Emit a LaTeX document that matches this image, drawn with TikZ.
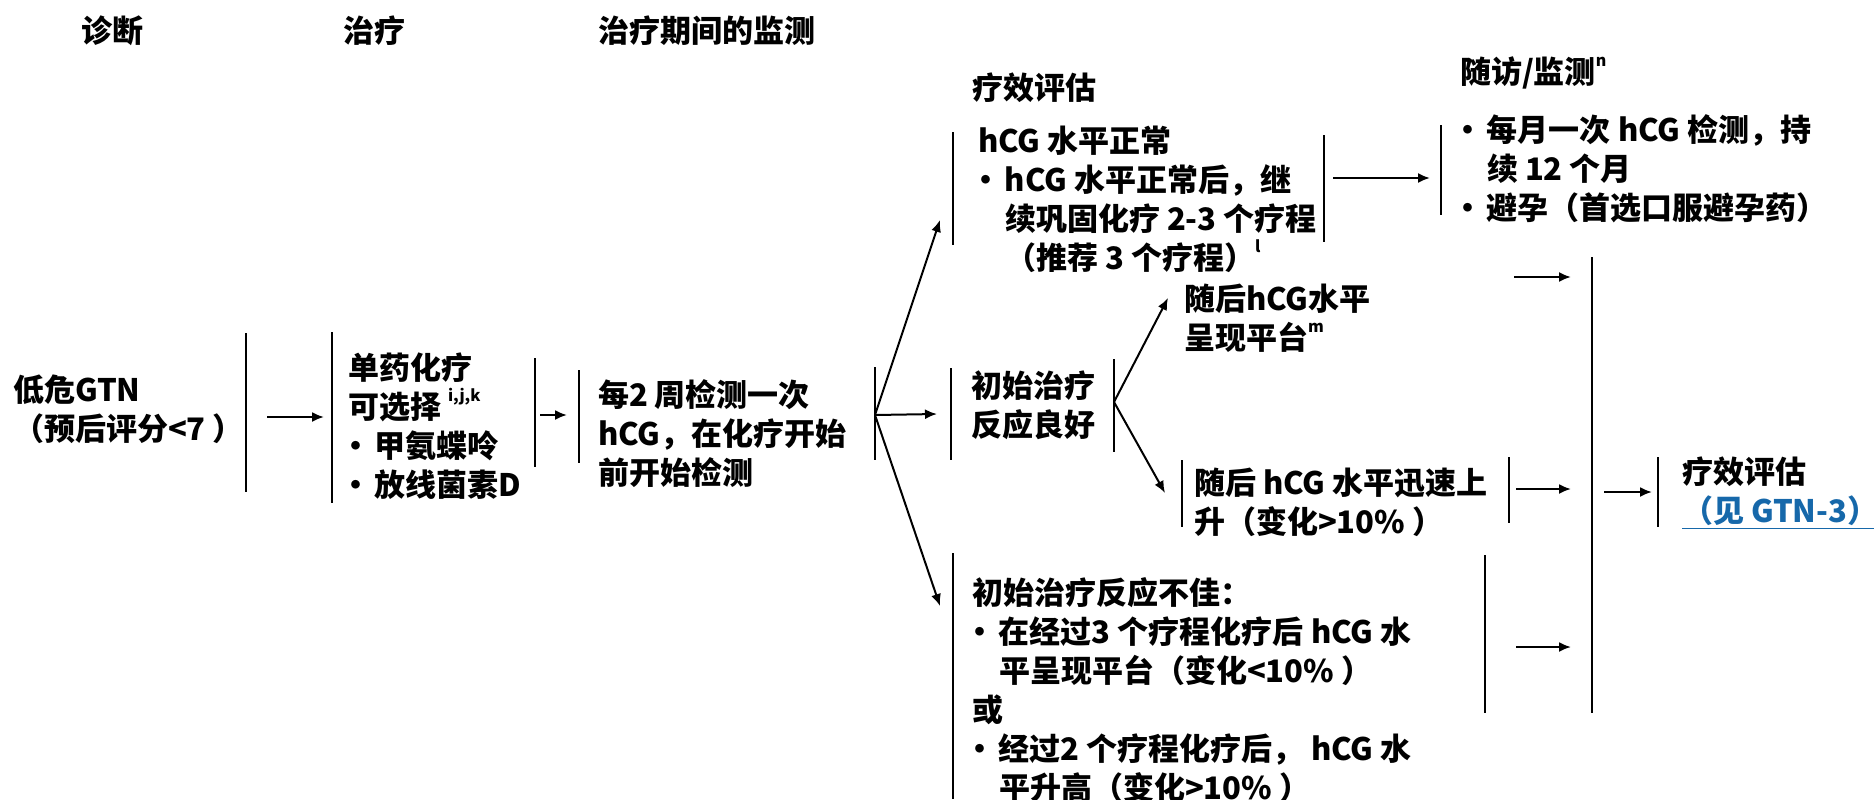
\documentclass[tikz,border=0pt]{standalone}
\usepackage{fontspec}
\setmainfont{Noto Sans CJK SC}
\usetikzlibrary{arrows.meta}
\definecolor{linkblue}{RGB}{22,104,170}
\newcommand\bul{\makebox[13.5pt][l]{\makebox[8pt]{•}}}
\newcommand\ind{\hspace*{13.5pt}}
\newcommand\sups[1]{\raisebox{0.55em}{\fontsize{8}{8}\selectfont #1}}
\begin{document}
\begin{tikzpicture}[x=0.5pt,y=-0.5pt,
  every node/.style={inner sep=0pt, outer sep=0pt, anchor=west, align=left,
    font=\fontsize{15.5}{19.5}\selectfont\bfseries},
  bar/.style={line width=1pt},
  arr/.style={line width=1pt, -{Latex[length=6pt,width=5pt]}}]
\useasboundingbox (0,0) rectangle (1874,799);

% headers
\node (h1) at (81,31) {诊断};
\node (h2) at (343,31) {治疗};
\node (h3) at (598,31) {治疗期间的监测};
\node (h4) at (972,88) {疗效评估};
\node (h5) at (1460,73) {随访/监测\sups{n}};

% text blocks
\node (dx) at (13,409) {低危GTN\\（预后评分<7 ）};
\node (tx) at (348,426) {单药化疗\\可选择 \sups{i,j,k}\\\bul 甲氨蝶呤\\\bul 放线菌素D};
\node (mon) at (598,434) {每2 周检测一次\\hCG，在化疗开始\\前开始检测};
\node (norm) at (978,199.5) {hCG 水平正常\\\bul hCG 水平正常后，继\\\ind 续巩固化疗 2-3 个疗程\\\ind （推荐 3 个疗程）\sups{l}};
\node (fu) at (1460,169) {\bul 每月一次 hCG 检测，持\\\ind 续 12 个月\\\bul 避孕（首选口服避孕药）};
\node (good) at (971,405) {初始治疗\\反应良好};
\node (plat) at (1184,318.5) {随后hCG水平\\呈现平台\sups{m}};
\node (rise) at (1194,502) {随后 hCG 水平迅速上\\升（变化>10\% ）};
\node (eval) at (1682,493) {疗效评估\\\textcolor{linkblue}{\underline{（见 GTN-3）}}};
\node (poor) at (972,690) {初始治疗反应不佳：\\\bul 在经过3 个疗程化疗后 hCG 水\\\ind 平呈现平台（变化<10\% ）\\或\\\bul 经过2 个疗程化疗后， hCG 水\\\ind 平升高（变化>10\% ）};

% bracket bars
\draw[bar] (246,333) -- (246,492);
\draw[bar] (332,332) -- (332,503);
\draw[bar] (535,358) -- (535,467);
\draw[bar] (579,370) -- (579,463);
\draw[bar] (875,367) -- (875,460);
\draw[bar] (953,132) -- (953,245);
\draw[bar] (1324,135) -- (1324,242);
\draw[bar] (1441,125) -- (1441,215);
\draw[bar] (951,368) -- (951,460);
\draw[bar] (1114,359) -- (1114,452);
\draw[bar] (1182,460) -- (1182,527);
\draw[bar] (1509,457) -- (1509,523);
\draw[bar] (953,553) -- (953,799);
\draw[bar] (1485,555) -- (1485,713);
\draw[bar] (1592,257) -- (1592,713);
\draw[bar] (1658,457) -- (1658,527);

% connector end points
\coordinate (a1s) at (267,417);  \coordinate (a1e) at (324,417);
\coordinate (a2s) at (540,415);  \coordinate (a2e) at (567,415);
\coordinate (f1) at (875,415);
\coordinate (n1in) at (940,220);
\coordinate (n2in) at (937,414);
\coordinate (n3in) at (940,606);
\coordinate (n1out) at (1333,178); \coordinate (fuin) at (1430,178);
\coordinate (f2) at (1114,402);
\coordinate (platin) at (1168,298);
\coordinate (risein) at (1165,493);
\coordinate (p1s) at (1514,277); \coordinate (p1e) at (1571,277);
\coordinate (p2s) at (1516,489); \coordinate (p2e) at (1571,489);
\coordinate (p3s) at (1516,647); \coordinate (p3e) at (1571,647);
\coordinate (bs) at (1604,492); \coordinate (be) at (1652,492);

\draw[arr] (a1s) -- (a1e);
\draw[arr] (a2s) -- (a2e);
\draw[arr] (f1) -- (n1in);
\draw[arr] (f1) -- (n2in);
\draw[arr] (f1) -- (n3in);
\draw[arr] (n1out) -- (fuin);
\draw[arr] (f2) -- (platin);
\draw[arr] (f2) -- (risein);
\draw[arr] (p1s) -- (p1e);
\draw[arr] (p2s) -- (p2e);
\draw[arr] (p3s) -- (p3e);
\draw[arr] (bs) -- (be);
\end{tikzpicture}
\end{document}
